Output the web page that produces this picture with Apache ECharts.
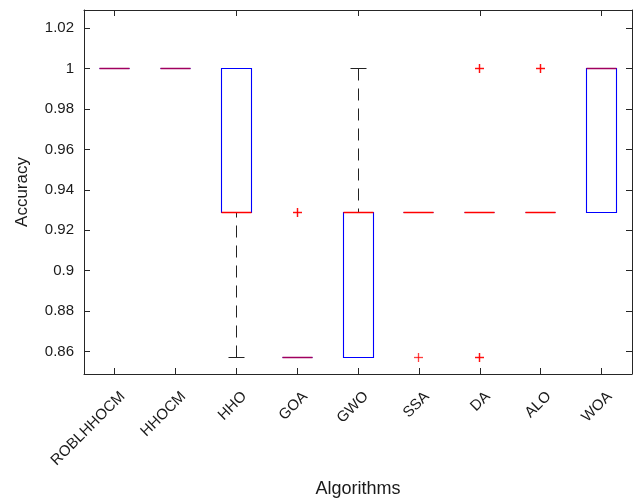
<!DOCTYPE html>
<html>
<head>
<meta charset="utf-8">
<script src="https://cdn.jsdelivr.net/npm/echarts@6/dist/echarts.min.js"></script>
<style>
  html, body { margin: 0; padding: 0; background: #fff; }
  #chart { width: 636px; height: 503px; }
</style>
</head>
<body>
<div id="chart"></div>
<script>
// Box statistics per algorithm (accuracy over repeated runs)
const categories = ['ROBLHHOCM', 'HHOCM', 'HHO', 'GOA', 'GWO', 'SSA', 'DA', 'ALO', 'WOA'];
const whiskerLow  = [1, 1, 0.8571, 0.8571, 0.8571, 0.9286, 0.9286, 0.9286, 0.9286];
const q1          = [1, 1, 0.9286, 0.8571, 0.8571, 0.9286, 0.9286, 0.9286, 0.9286];
const medians     = [1, 1, 0.9286, 0.8571, 0.9286, 0.9286, 0.9286, 0.9286, 1];
const q3          = [1, 1, 1,      0.8571, 0.9286, 0.9286, 0.9286, 0.9286, 1];
const whiskerHigh = [1, 1, 1,      0.8571, 1,      0.9286, 0.9286, 0.9286, 1];

// Outlier points (category index, accuracy); repeated values are repeated runs
const outlierCategory = [3, 3, 5, 6, 6, 6, 6, 7, 7];
const outlierValue    = [0.9286, 0.9286, 0.8571, 1, 1, 0.8571, 0.8571, 1, 1];

// Y axis tick values
const yTicks = [0.86, 0.88, 0.9, 0.92, 0.94, 0.96, 0.98, 1, 1.02];
const yMin = 0.8488;
const yMax = 1.029;

const FONT = '"Liberation Sans", Arial, Helvetica, sans-serif';
const AXIS_COLOR = '#262626';
const BOX_COLOR = '#0000ff';
const MEDIAN_COLOR = '#ff0000';
const WHISKER_COLOR = '#222222';
// medians that sit on top of a box edge and render as a blended purple line
const blendedMedian = new Set([0, 1, 3, 8]);

const boxData = categories.map((c, i) => [i, whiskerLow[i], q1[i], medians[i], q3[i], whiskerHigh[i]]);
const outlierData = outlierCategory.map((c, i) => [c, outlierValue[i]]);

// snap to the pixel grid so 1px strokes stay sharp
const crisp = v => Math.round(v - 0.5) + 0.5;

function line(x1, y1, x2, y2, color, width) {
  return { type: 'line', shape: { x1: x1, y1: y1, x2: x2, y2: y2 },
    style: { stroke: color, lineWidth: width } };
}

// dashed vertical whisker, dashes laid out starting from the cap end
function dashedWhisker(out, x, yFrom, yTo) {
  const dashLen = 12, gapLen = 8;
  const dir = yTo > yFrom ? 1 : -1;
  const total = Math.abs(yTo - yFrom);
  for (let d = 0; d < total; d += dashLen + gapLen) {
    const a = yFrom + dir * d;
    const b = yFrom + dir * Math.min(d + dashLen, total);
    out.push(line(x, a, x, b, WHISKER_COLOR, 1));
  }
}

function boxGeometry(api) {
  const i = api.value(0);
  const band = api.size([1, 0])[0];
  return {
    cx: crisp(api.coord([i, api.value(3)])[0]),
    yLo: crisp(api.coord([i, api.value(1)])[1]),
    yQ1: crisp(api.coord([i, api.value(2)])[1]),
    yMed: crisp(api.coord([i, api.value(3)])[1]),
    yQ3: crisp(api.coord([i, api.value(4)])[1]),
    yHi: crisp(api.coord([i, api.value(5)])[1]),
    half: Math.round(band * 0.25),
    capHalf: Math.round(band * 0.125)
  };
}

// whiskers and caps
function renderWhiskers(params, api) {
  const g = boxGeometry(api);
  const children = [];
  if (Math.abs(g.yLo - g.yQ1) > 0.5) dashedWhisker(children, g.cx, g.yLo, g.yQ1);
  if (Math.abs(g.yHi - g.yQ3) > 0.5) dashedWhisker(children, g.cx, g.yHi, g.yQ3);
  children.push(line(g.cx - g.capHalf, g.yLo, g.cx + g.capHalf, g.yLo, WHISKER_COLOR, 1));
  children.push(line(g.cx - g.capHalf, g.yHi, g.cx + g.capHalf, g.yHi, WHISKER_COLOR, 1));
  return { type: 'group', children: children };
}

// box outline and median
function renderBox(params, api) {
  const g = boxGeometry(api);
  return { type: 'group', children: [
    { type: 'polygon',
      shape: { points: [[g.cx - g.half, g.yQ3], [g.cx + g.half, g.yQ3], [g.cx + g.half, g.yQ1], [g.cx - g.half, g.yQ1]] },
      style: { stroke: BOX_COLOR, fill: 'none', lineWidth: 1.1 } },
    line(g.cx - g.half, g.yMed, g.cx + g.half, g.yMed,
      blendedMedian.has(params.dataIndex) ? '#a0005f' : MEDIAN_COLOR, 1.5)
  ] };
}

function renderOutlier(params, api) {
  const p = api.coord([api.value(0), api.value(1)]);
  const x = crisp(p[0]), y = crisp(p[1]);
  const s = 4.5;
  return { type: 'group', children: [
    { type: 'line', shape: { x1: x - s, y1: y, x2: x + s, y2: y },
      style: { stroke: MEDIAN_COLOR, lineWidth: 1.3, opacity: 0.75 } },
    { type: 'line', shape: { x1: x, y1: y - s, x2: x, y2: y + s },
      style: { stroke: MEDIAN_COLOR, lineWidth: 1.3, opacity: 0.75 } }
  ] };
}

const fmt = v => String(Number(v.toFixed(2)));

const chart = echarts.init(document.getElementById('chart'), null, { renderer: 'canvas' });
chart.setOption({
  backgroundColor: '#fff',
  animation: false,
  grid: { left: 84, right: 4, top: 10, bottom: 127, containLabel: false },
  xAxis: [
    {
      type: 'category', data: categories, position: 'bottom', boundaryGap: true,
      axisLine: { show: true, lineStyle: { color: AXIS_COLOR, width: 1 } },
      axisTick: { show: true, inside: true, alignWithLabel: true, length: 6, lineStyle: { color: AXIS_COLOR } },
      axisLabel: {
        show: true, interval: 0, rotate: 45, margin: 12, align: 'right', verticalAlign: 'top',
        lineHeight: 23, fontSize: 15, color: '#1a1a1a', fontFamily: FONT
      },
      splitLine: { show: false },
      name: 'Algorithms', nameLocation: 'middle', nameGap: 106,
      nameTextStyle: { fontSize: 18, color: '#1a1a1a', fontFamily: FONT }
    },
    {
      type: 'category', data: categories, position: 'top', boundaryGap: true,
      axisLine: { show: true, lineStyle: { color: AXIS_COLOR, width: 1 } },
      axisTick: { show: true, inside: true, alignWithLabel: true, length: 6, lineStyle: { color: AXIS_COLOR } },
      axisLabel: { show: false },
      splitLine: { show: false }
    }
  ],
  yAxis: [
    {
      type: 'value', min: yMin, max: yMax, position: 'left',
      axisLine: { show: true, lineStyle: { color: AXIS_COLOR, width: 1 } },
      axisTick: { show: true, inside: true, length: 6, customValues: yTicks, lineStyle: { color: AXIS_COLOR } },
      axisLabel: { show: true, customValues: yTicks, formatter: fmt, margin: 10, fontSize: 15,
        color: '#1a1a1a', fontFamily: FONT },
      splitLine: { show: false },
      name: 'Accuracy', nameLocation: 'middle', nameGap: 53,
      nameTextStyle: { fontSize: 17, color: '#1a1a1a', fontFamily: FONT }
    },
    {
      type: 'value', min: yMin, max: yMax, position: 'right',
      axisLine: { show: true, lineStyle: { color: AXIS_COLOR, width: 1 } },
      axisTick: { show: true, inside: true, length: 6, customValues: yTicks, lineStyle: { color: AXIS_COLOR } },
      axisLabel: { show: false },
      splitLine: { show: false }
    }
  ],
  series: [
    {
      type: 'custom', name: 'whiskers', xAxisIndex: 0, yAxisIndex: 0,
      renderItem: renderWhiskers, data: boxData,
      encode: { x: 0, y: [1, 2, 3, 4, 5] }, clip: false
    },
    {
      type: 'custom', name: 'box', xAxisIndex: 0, yAxisIndex: 0,
      renderItem: renderBox, data: boxData,
      encode: { x: 0, y: [1, 2, 3, 4, 5] }, clip: false
    },
    {
      type: 'custom', name: 'outliers', xAxisIndex: 0, yAxisIndex: 0,
      renderItem: renderOutlier, data: outlierData,
      encode: { x: 0, y: 1 }, clip: false
    }
  ]
});
</script>
</body>
</html>
